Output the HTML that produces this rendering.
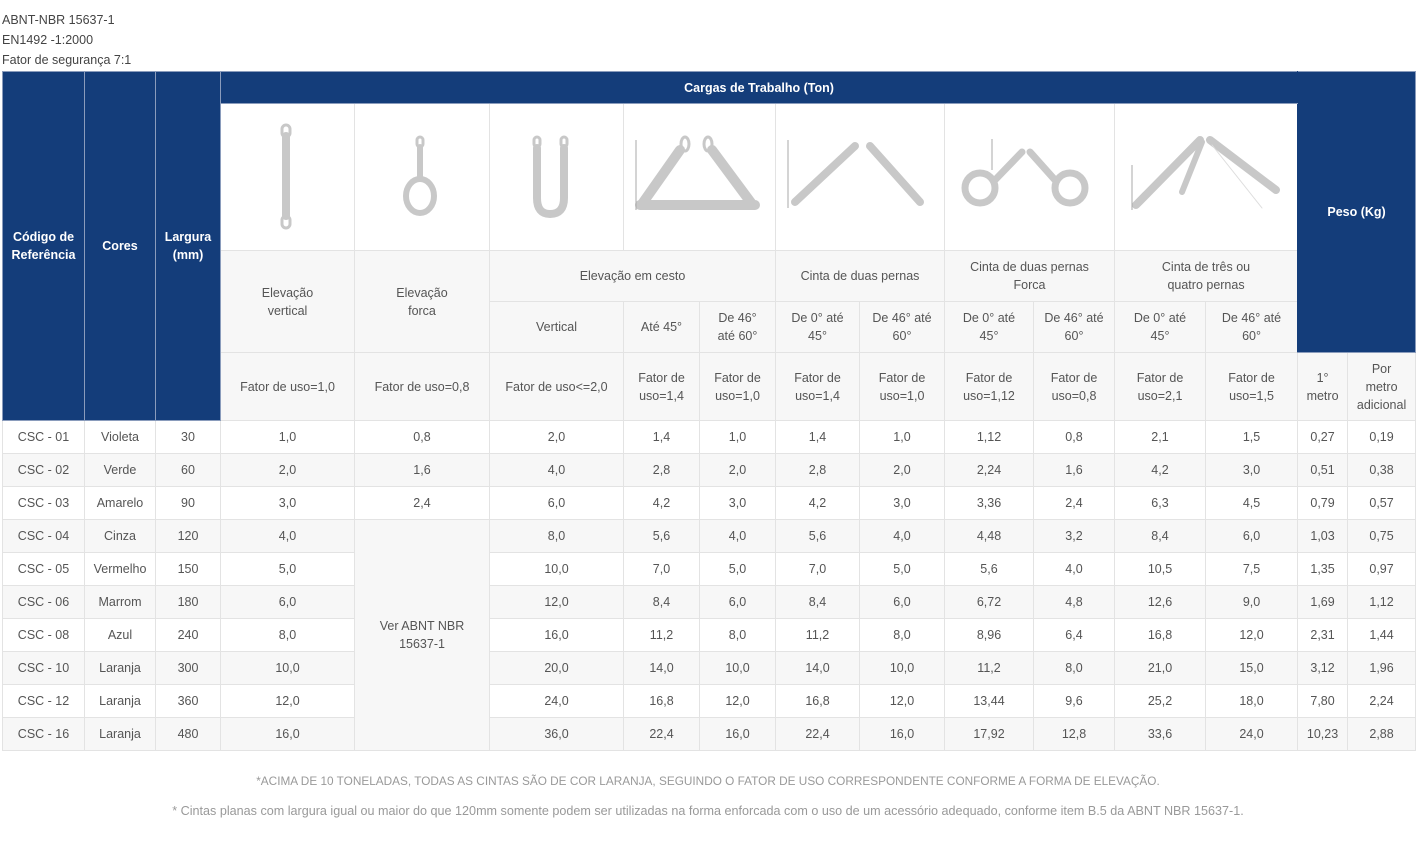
<!DOCTYPE html>
<html><head><meta charset="utf-8">
<style>
*{margin:0;padding:0;box-sizing:border-box}
body{width:1416px;height:843px;background:#fff;font-family:"Liberation Sans",sans-serif;color:#555;position:relative;overflow:hidden}
.top{position:absolute;left:2px;font-size:12.5px;color:#444;line-height:20px}
table{position:absolute;left:2px;top:71px;border-collapse:collapse;table-layout:fixed;width:1413px}
td{border:1px solid #e3e3e3;text-align:center;vertical-align:middle;font-size:12.5px;line-height:18px;color:#555;padding:0 3px}
td.b{background:#143d7a;color:#fff;font-weight:bold;border-color:#8a9cbc;font-size:12.5px}
tr.g td{background:#f7f7f7}
.hg{background:#f7f7f7}
.img{background:#fff}
tbody tr{height:33px}
.note{position:absolute;left:0;width:1416px;text-align:center;color:#999}
svg{position:absolute;left:0;top:0}
</style></head><body>
<div class="top" style="top:10px">ABNT-NBR 15637-1</div>
<div class="top" style="top:30px">EN1492 -1:2000</div>
<div class="top" style="top:50px">Fator de segurança 7:1</div>
<table>
<colgroup>
<col style="width:82px"><col style="width:71px"><col style="width:65px"><col style="width:134px"><col style="width:135px"><col style="width:134px"><col style="width:76px"><col style="width:76px"><col style="width:84px"><col style="width:85px"><col style="width:89px"><col style="width:81px"><col style="width:91px"><col style="width:92px"><col style="width:50px"><col style="width:68px">
</colgroup>
<thead>
<tr style="height:32px">
<td class="b" rowspan="5">Código de Referência</td>
<td class="b" rowspan="5">Cores</td>
<td class="b" rowspan="5">Largura (mm)</td>
<td class="b" colspan="11" style="border-right-color:#143d7a">Cargas de Trabalho (Ton)</td>
<td class="b" colspan="2" rowspan="4" style="border-left-color:#143d7a">Peso (Kg)</td>
</tr>
<tr style="height:147px">
<td class="img"></td><td class="img"></td><td class="img"></td><td class="img" colspan="2"></td><td class="img" colspan="2"></td><td class="img" colspan="2"></td><td class="img" colspan="2"></td>
</tr>
<tr style="height:51px">
<td class="hg" rowspan="2">Elevação<br>vertical</td>
<td class="hg" rowspan="2">Elevação<br>forca</td>
<td class="hg" colspan="3">Elevação em cesto</td>
<td class="hg" colspan="2">Cinta de duas pernas</td>
<td class="hg" colspan="2">Cinta de duas pernas<br>Forca</td>
<td class="hg" colspan="2">Cinta de três ou<br>quatro pernas</td>
</tr>
<tr style="height:51px">
<td class="hg">Vertical</td><td class="hg">Até 45°</td><td class="hg">De 46°<br>até 60°</td><td class="hg">De 0° até<br>45°</td><td class="hg">De 46° até<br>60°</td><td class="hg">De 0° até<br>45°</td><td class="hg">De 46° até<br>60°</td><td class="hg">De 0° até<br>45°</td><td class="hg">De 46° até<br>60°</td>
</tr>
<tr style="height:68px">
<td class="hg">Fator de uso=1,0</td><td class="hg">Fator de uso=0,8</td><td class="hg">Fator de uso&lt;=2,0</td><td class="hg">Fator de<br>uso=1,4</td><td class="hg">Fator de<br>uso=1,0</td><td class="hg">Fator de<br>uso=1,4</td><td class="hg">Fator de<br>uso=1,0</td><td class="hg">Fator de<br>uso=1,12</td><td class="hg">Fator de<br>uso=0,8</td><td class="hg">Fator de<br>uso=2,1</td><td class="hg">Fator de<br>uso=1,5</td><td class="hg">1°<br>metro</td><td class="hg">Por<br>metro<br>adicional</td>
</tr>
</thead>
<tbody>
<tr><td>CSC - 01</td><td>Violeta</td><td>30</td><td>1,0</td><td>0,8</td><td>2,0</td><td>1,4</td><td>1,0</td><td>1,4</td><td>1,0</td><td>1,12</td><td>0,8</td><td>2,1</td><td>1,5</td><td>0,27</td><td>0,19</td></tr>
<tr class="g"><td>CSC - 02</td><td>Verde</td><td>60</td><td>2,0</td><td>1,6</td><td>4,0</td><td>2,8</td><td>2,0</td><td>2,8</td><td>2,0</td><td>2,24</td><td>1,6</td><td>4,2</td><td>3,0</td><td>0,51</td><td>0,38</td></tr>
<tr><td>CSC - 03</td><td>Amarelo</td><td>90</td><td>3,0</td><td>2,4</td><td>6,0</td><td>4,2</td><td>3,0</td><td>4,2</td><td>3,0</td><td>3,36</td><td>2,4</td><td>6,3</td><td>4,5</td><td>0,79</td><td>0,57</td></tr>
<tr class="g"><td>CSC - 04</td><td>Cinza</td><td>120</td><td>4,0</td><td rowspan="7" style="background:#f7f7f7">Ver ABNT NBR<br>15637-1</td><td>8,0</td><td>5,6</td><td>4,0</td><td>5,6</td><td>4,0</td><td>4,48</td><td>3,2</td><td>8,4</td><td>6,0</td><td>1,03</td><td>0,75</td></tr>
<tr><td>CSC - 05</td><td>Vermelho</td><td>150</td><td>5,0</td><td>10,0</td><td>7,0</td><td>5,0</td><td>7,0</td><td>5,0</td><td>5,6</td><td>4,0</td><td>10,5</td><td>7,5</td><td>1,35</td><td>0,97</td></tr>
<tr class="g"><td>CSC - 06</td><td>Marrom</td><td>180</td><td>6,0</td><td>12,0</td><td>8,4</td><td>6,0</td><td>8,4</td><td>6,0</td><td>6,72</td><td>4,8</td><td>12,6</td><td>9,0</td><td>1,69</td><td>1,12</td></tr>
<tr><td>CSC - 08</td><td>Azul</td><td>240</td><td>8,0</td><td>16,0</td><td>11,2</td><td>8,0</td><td>11,2</td><td>8,0</td><td>8,96</td><td>6,4</td><td>16,8</td><td>12,0</td><td>2,31</td><td>1,44</td></tr>
<tr class="g"><td>CSC - 10</td><td>Laranja</td><td>300</td><td>10,0</td><td>20,0</td><td>14,0</td><td>10,0</td><td>14,0</td><td>10,0</td><td>11,2</td><td>8,0</td><td>21,0</td><td>15,0</td><td>3,12</td><td>1,96</td></tr>
<tr><td>CSC - 12</td><td>Laranja</td><td>360</td><td>12,0</td><td>24,0</td><td>16,8</td><td>12,0</td><td>16,8</td><td>12,0</td><td>13,44</td><td>9,6</td><td>25,2</td><td>18,0</td><td>7,80</td><td>2,24</td></tr>
<tr class="g"><td>CSC - 16</td><td>Laranja</td><td>480</td><td>16,0</td><td>36,0</td><td>22,4</td><td>16,0</td><td>22,4</td><td>16,0</td><td>17,92</td><td>12,8</td><td>33,6</td><td>24,0</td><td>10,23</td><td>2,88</td></tr>
</tbody>
</table>
<svg width="1416" height="843" viewBox="0 0 1416 843">
<g fill="none" stroke="#c8c8c8" stroke-linecap="round">
<line x1="286" y1="136" x2="286" y2="216" stroke-width="8"/>
<rect x="282" y="125" width="8" height="12" rx="4" stroke-width="3"/>
<rect x="282" y="216" width="8" height="12" rx="4" stroke-width="3"/>
<rect x="417" y="137" width="6" height="10" rx="3" stroke-width="3"/>
<line x1="420" y1="147" x2="420" y2="178" stroke-width="6"/>
<ellipse cx="420" cy="196" rx="14" ry="17" stroke-width="6"/>
<rect x="534" y="137" width="6" height="10" rx="3" stroke-width="3"/>
<rect x="561" y="137" width="6" height="10" rx="3" stroke-width="3"/>
<path d="M537 148 V198 Q537 214 550 214 Q564 214 564 198 V148" stroke-width="8"/>
<line x1="680" y1="150" x2="642" y2="204" stroke-width="10"/>
<line x1="712" y1="150" x2="752" y2="204" stroke-width="10"/>
<line x1="640" y1="205" x2="755" y2="205" stroke-width="10"/>
<ellipse cx="685" cy="144" rx="4" ry="7" stroke-width="3"/>
<ellipse cx="708" cy="144" rx="4" ry="7" stroke-width="3"/>
<line x1="855" y1="146" x2="795" y2="202" stroke-width="8"/>
<line x1="870" y1="146" x2="920" y2="202" stroke-width="8"/>
<line x1="1022" y1="152" x2="995" y2="180" stroke-width="7"/>
<line x1="1030" y1="152" x2="1055" y2="180" stroke-width="7"/>
<ellipse cx="980" cy="188" rx="15" ry="15" stroke-width="7"/>
<ellipse cx="1070" cy="188" rx="15" ry="15" stroke-width="7"/>
<line x1="1200" y1="140" x2="1136" y2="205" stroke-width="8"/>
<line x1="1202" y1="142" x2="1182" y2="192" stroke-width="6"/>
<line x1="1210" y1="140" x2="1276" y2="190" stroke-width="8"/>
<line x1="1212" y1="145" x2="1262" y2="208" stroke-width="1" stroke="#ddd"/>
</g>
<g stroke="#aaa" stroke-width="1">
<line x1="636" y1="140" x2="636" y2="210"/>
<line x1="788" y1="140" x2="788" y2="208"/>
<line x1="992" y1="139" x2="992" y2="170"/>
<line x1="1132" y1="165" x2="1132" y2="210"/>
</g>
</svg>
<div class="note" style="top:774px;font-size:11.8px">*ACIMA DE 10 TONELADAS, TODAS AS CINTAS SÃO DE COR LARANJA, SEGUINDO O FATOR DE USO CORRESPONDENTE CONFORME A FORMA DE ELEVAÇÃO.</div>
<div class="note" style="top:804px;font-size:12.6px">* Cintas planas com largura igual ou maior do que 120mm somente podem ser utilizadas na forma enforcada com o uso de um acessório adequado, conforme item B.5 da ABNT NBR 15637-1.</div>
</body></html>
